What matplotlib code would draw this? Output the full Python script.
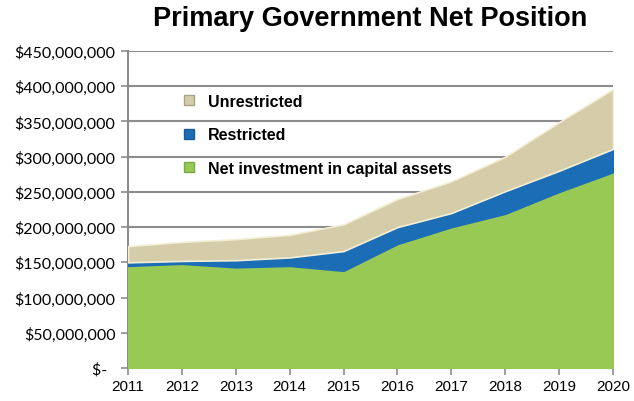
import matplotlib
matplotlib.use("Agg")
import matplotlib.pyplot as plt
from matplotlib.ticker import FuncFormatter, MultipleLocator
from matplotlib.patches import Patch

years = [2011, 2012, 2013, 2014, 2015, 2016, 2017, 2018, 2019, 2020]
net_investment = [145e6, 148e6, 143e6, 145e6, 138e6, 176e6, 200e6, 219e6, 250e6, 278e6]
restricted = [5e6, 4e6, 10e6, 12e6, 28e6, 24e6, 20e6, 32e6, 30e6, 33e6]
unrestricted = [23e6, 27e6, 30e6, 32e6, 38e6, 40e6, 45e6, 49e6, 69e6, 85e6]
labels = ["Net investment in capital assets", "Restricted", "Unrestricted"]
colors = ["#98C955", "#1B6DB6", "#D5CDA9"]
edges = ["#98C955", "#1B6DB6", "#F3EFD6"]

plt.rcParams["font.family"] = "Lato"

fig = plt.figure(figsize=(6.34, 4.02), dpi=100)
ax = fig.add_axes([128/634, 1-369/402, (613-128)/634, (369-52)/402])

polys = ax.stackplot(years, net_investment, restricted, unrestricted, colors=colors, zorder=3)
for p, e in zip(polys, edges):
    p.set_edgecolor(e)
    p.set_linewidth(1.2)

ax.set_xlim(2011, 2020)
ax.set_ylim(0, 450e6)
ax.yaxis.set_major_locator(MultipleLocator(50e6))
ax.set_xticks(years)
ax.set_xticklabels([str(y) for y in years], fontfamily="Liberation Sans", fontsize=11)

def fmt(v, pos):
    if v == 0:
        return "$-  "
    return "${:,.0f}".format(v)
ax.yaxis.set_major_formatter(FuncFormatter(fmt))

ax.grid(axis="y", color="#8C8C8C", linewidth=1.5, zorder=0)
ax.set_axisbelow(True)
for s in ["top", "right"]:
    ax.spines[s].set_visible(False)
for s in ["left", "bottom"]:
    ax.spines[s].set_color("#8C8C8C")
    ax.spines[s].set_linewidth(1.5)
ax.tick_params(axis="y", length=5, width=1.2, color="#8C8C8C", labelsize=11.5, pad=4)
ax.tick_params(axis="x", length=5, width=1.2, color="#8C8C8C", pad=3)

fig.text(370/634, 1-19/402, "Primary Government Net Position", ha="center", va="center",
         fontsize=19.5, fontweight="bold", fontfamily="Liberation Sans")

handles = [Patch(facecolor=colors[2], edgecolor="#A9A28A"),
           Patch(facecolor=colors[1], edgecolor="#1B5A95"),
           Patch(facecolor=colors[0], edgecolor="#7AA845")]
leg = ax.legend(handles, [labels[2], labels[1], labels[0]], loc="upper left",
                bbox_to_anchor=(0.086, 0.91), frameon=False, handlelength=0.6, handleheight=0.6,
                labelspacing=1.15, handletextpad=0.9,
                prop={"family": "Liberation Sans", "weight": "bold", "size": 11.5})

fig.savefig("out.png", dpi=100)
